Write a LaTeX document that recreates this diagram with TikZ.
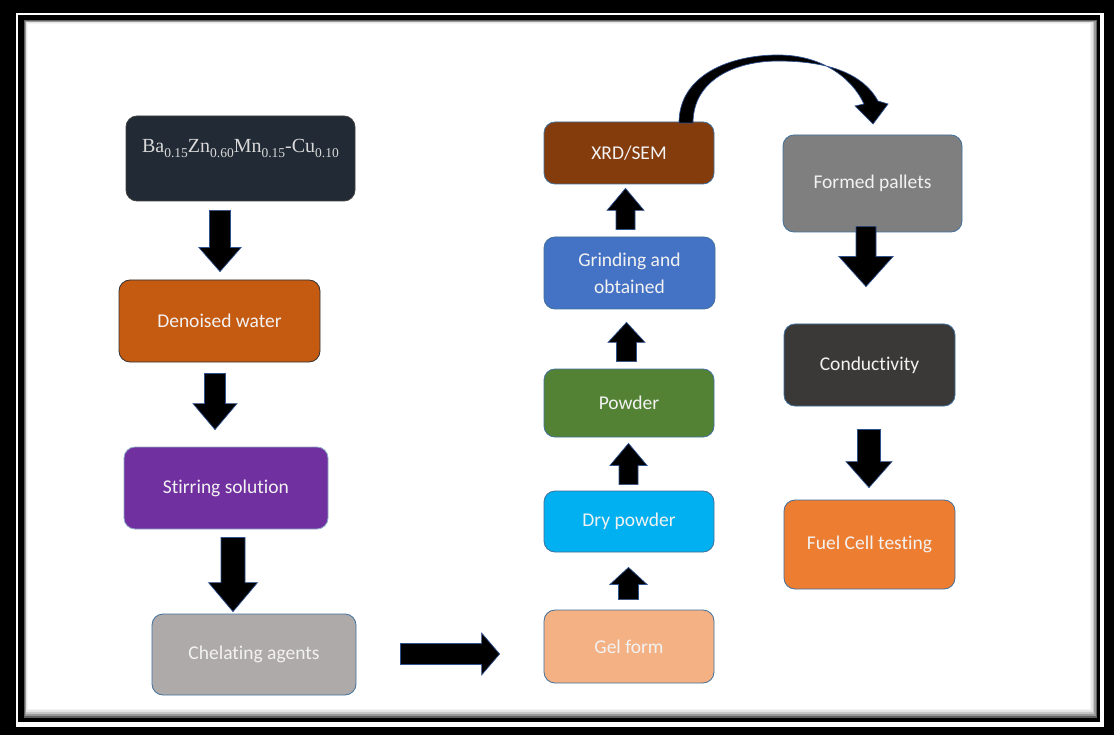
\documentclass[tikz,border=0pt]{standalone}
\usepackage{fontspec}
\setmainfont{Carlito}[Ligatures=NoCommon]
\newfontfamily\timesf{Liberation Serif}
\usetikzlibrary{calc}
\definecolor{cba}{HTML}{222A35}
\definecolor{cden}{HTML}{C55A11}
\definecolor{cstir}{HTML}{7030A0}
\definecolor{cchel}{HTML}{AEAAAA}
\definecolor{cgel}{HTML}{F4B183}
\definecolor{cdry}{HTML}{00B0F0}
\definecolor{cpow}{HTML}{548235}
\definecolor{cgrind}{HTML}{4472C4}
\definecolor{cxrd}{HTML}{843C0C}
\definecolor{cformed}{HTML}{7F7F7F}
\definecolor{ccond}{HTML}{3B3838}
\definecolor{cfuel}{HTML}{ED7D31}
\definecolor{boxline}{HTML}{41719C}
\definecolor{arrowline}{HTML}{2F528F}
\newcommand\arrdown[8]{%
  \path[blk] let \p1=(#1.south), \p2=(#2.north) in
   ({#3pt-#6pt},{\y1-(#4pt)}) -- ({#3pt+#6pt},{\y1-(#4pt)}) -- ({#3pt+#6pt},{\y2+(#5pt)+(#8pt)}) -- ({#3pt+#7pt},{\y2+(#5pt)+(#8pt)}) -- ({#3pt},{\y2+(#5pt)}) -- ({#3pt-#7pt},{\y2+(#5pt)+(#8pt)}) -- ({#3pt-#6pt},{\y2+(#5pt)+(#8pt)}) -- cycle;}
\newcommand\arrup[8]{%
  \path[blk] let \p1=(#1.north), \p2=(#2.south) in
   ({#3pt-#6pt},{\y1+(#4pt)}) -- ({#3pt+#6pt},{\y1+(#4pt)}) -- ({#3pt+#6pt},{\y2-(#5pt)-(#8pt)}) -- ({#3pt+#7pt},{\y2-(#5pt)-(#8pt)}) -- ({#3pt},{\y2-(#5pt)}) -- ({#3pt-#7pt},{\y2-(#5pt)-(#8pt)}) -- ({#3pt-#6pt},{\y2-(#5pt)-(#8pt)}) -- cycle;}
\newcommand\arrright[8]{%
  \path[blk] let \p1=(#1.east), \p2=(#2.west) in
   ({\x1+(#4pt)},{-#3pt+#6pt}) -- ({\x2-(#5pt)-(#8pt)},{-#3pt+#6pt}) -- ({\x2-(#5pt)-(#8pt)},{-#3pt+#7pt}) -- ({\x2-(#5pt)},{-#3pt}) -- ({\x2-(#5pt)-(#8pt)},{-#3pt-#7pt}) -- ({\x2-(#5pt)-(#8pt)},{-#3pt-#6pt}) -- ({\x1+(#4pt)},{-#3pt-#6pt}) -- cycle;}
\newcommand\subs[1]{\raisebox{-4.5pt}{\fontsize{13.5}{14}\selectfont #1}}
\begin{document}
\begin{tikzpicture}[x=1pt,y=-1pt,
  box/.style={rectangle, rounded corners=11pt, draw=boxline, line width=0.8pt,
    text=white!95!black, font=\fontsize{19.5}{27}\selectfont, align=center, inner sep=0pt},
  blk/.style={fill=black, draw=arrowline, line width=0.7pt, line join=miter}]
\useasboundingbox (0,0) rectangle (1114,735);
% frame
\fill[black] (0,0) rectangle (1114,735);
\fill[white] (16,13) rectangle (1104,727);
\fill[black] (18,15) rectangle (1100,722);
\fill[black!62] (24,20) rectangle (1097,718);
\fill[black!40] (24.8,20.8) rectangle (1095.5,716.2);
\fill[black!22] (25.6,21.6) rectangle (1094,714.2);
\fill[black!10] (26.4,22.4) rectangle (1092.5,712.2);
\fill[black!4] (27.2,23.2) rectangle (1091,710.2);
\fill[white] (28,24) rectangle (1089.5,708.5);
% left column
\node[box, fill=cba, draw=black!75, minimum width=229pt, minimum height=85pt,
  text=black!15, text height=14pt, text depth=25pt] (ba) at (240.5,158.5)
  {\timesf\fontsize{20}{22}\selectfont Ba\subs{0.15}Zn\subs{0.60}Mn\subs{0.15}-Cu\subs{0.10}};
\node[box, fill=cden, draw=black!80, minimum width=201pt, minimum height=82pt] (den) at (219.5,321) {Denoised water};
\node[box, fill=cstir, draw=boxline!60, minimum width=204pt, minimum height=82pt] (stir) at (226,488) {Stirring solution};
\node[box, fill=cchel, minimum width=204pt, minimum height=81pt] (chel) at (254,654.5) {Chelating agents};
% middle column
\node[box, fill=cgel, minimum width=170pt, minimum height=73pt] (gel) at (629,646.5) {Gel form};
\node[box, fill=cdry, minimum width=170pt, minimum height=61pt] (dry) at (629,521.5) {Dry powder};
\node[box, fill=cpow, minimum width=170pt, minimum height=68pt] (pow) at (629,403) {Powder};
\node[box, fill=cgrind, minimum width=171pt, minimum height=72pt] (grind) at (629.5,273) {Grinding and\\obtained};
\node[box, fill=cxrd, minimum width=170pt, minimum height=62pt] (xrd) at (629,153) {XRD/SEM};
% right column
\node[box, fill=cformed, minimum width=179pt, minimum height=97pt] (formed) at (872.5,183.5) {Formed pallets};
\node[box, fill=ccond, minimum width=171pt, minimum height=82pt] (cond) at (869.5,365) {Conductivity};
\node[box, fill=cfuel, minimum width=171pt, minimum height=89pt] (fuel) at (869.5,544.5) {Fuel Cell testing};
% block arrows
\arrdown{ba}{den}{220}{9}{8}{10.5}{21}{24}
\arrdown{den}{stir}{215}{11}{17}{10.5}{22}{26}
\arrdown{stir}{chel}{233}{8}{2}{12}{24.5}{29}
\arrright{chel}{gel}{654}{44}{44}{10.5}{21}{18}
\arrup{gel}{dry}{628.5}{10}{15}{10}{18.5}{17}
\arrup{dry}{pow}{628.5}{6}{6}{9.5}{18.5}{22}
\arrup{pow}{grind}{626.5}{7}{13}{10}{18.5}{20}
\arrup{grind}{xrd}{625.5}{7}{4}{9.5}{18.5}{22}
\arrdown{formed}{cond}{866}{-6}{37}{10}{27}{30}
\arrdown{cond}{fuel}{869}{23}{12}{11.5}{23}{26}
% curved arrow XRD/SEM -> Formed pallets
\path[blk] (679,123) .. controls (679,75) and (730,55) .. (778,55)
  .. controls (822,55) and (852,78) .. (864,104) -- (855,106) -- (873,124) -- (888,104)
  -- (878,101) .. controls (862,72) and (825,61) .. (778,61)
  .. controls (735,61) and (693,80) .. (693,123) -- cycle;
\end{tikzpicture}
\end{document}
